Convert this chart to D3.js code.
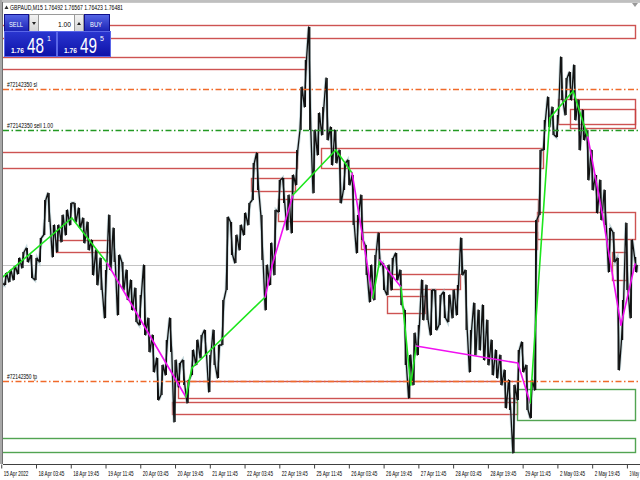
<!DOCTYPE html>
<html><head><meta charset="utf-8">
<script src="https://cdn.jsdelivr.net/npm/d3@7"></script>
<style>body{margin:0;background:#fff}svg{display:block}</style>
</head><body>
<svg id="c" width="640" height="480"></svg>
<script>
// ---------------- data ----------------
const symbolTitle = "GBPAUD,M15  1.76492 1.76567 1.76423 1.76481";
const bidPrice = 1.76481;
const askPrice = 1.76495;
const lotSize = "1.00";
const tickBars = [0,64,128,192,256,320,384,448,512,576,640,704,768,832,896,960,1024,1088,1152];
const tickLabels = ["15 Apr 2022","18 Apr 03:45","18 Apr 19:45","19 Apr 11:45","20 Apr 03:45","20 Apr 19:45","21 Apr 11:45","22 Apr 03:45","22 Apr 19:45","25 Apr 11:45","26 Apr 03:45","26 Apr 19:45","27 Apr 11:45","28 Apr 03:45","28 Apr 19:45","29 Apr 11:45","2 May 03:45","2 May 19:45","3 May"];
const barStep = 8; // bars between price samples
const high = [1.7630,1.7640,1.7643,1.7647,1.7655,1.7661,1.7665,1.7658,1.7655,1.7675,
1.7713,1.7720,1.7688,1.7688,1.7698,1.7703,1.7710,1.7710,1.7705,1.7695,
1.7691,1.7673,1.7663,1.7655,1.7643,1.7698,1.7685,1.7658,1.7651,1.7643,
1.7633,1.7625,1.7618,1.7648,1.7595,1.7578,1.7555,1.7548,1.7573,1.7595,
1.7553,1.7550,1.7553,1.7533,1.7563,1.7573,1.7578,1.7583,1.7558,1.7583,
1.7568,1.7613,1.7696,1.7691,1.7678,1.7688,1.7700,1.7710,1.7750,1.7760,
1.7698,1.7648,1.7670,1.7703,1.7733,1.7735,1.7718,1.7738,1.7763,1.7826,
1.7853,1.7886,1.7783,1.7800,1.7806,1.7835,1.7786,1.7783,1.7763,1.7750,
1.7753,1.7738,1.7698,1.7718,1.7668,1.7648,1.7658,1.7680,1.7650,1.7648,
1.7655,1.7660,1.7643,1.7603,1.7558,1.7580,1.7588,1.7633,1.7628,1.7623,
1.7623,1.7618,1.7621,1.7618,1.7623,1.7628,1.7675,1.7643,1.7583,1.7610,
1.7603,1.7608,1.7593,1.7573,1.7563,1.7558,1.7543,1.7533,1.7528,1.7563,
1.7571,1.7548,1.7533,1.7693,1.7763,1.7793,1.7816,1.7806,1.7798,1.7856,
1.7835,1.7841,1.7848,1.7813,1.7803,1.7783,1.7763,1.7738,1.7733,1.7723,
1.7685,1.7681,1.7655,1.7613,1.7690,1.7673,1.7656];
const low = [1.7610,1.7628,1.7631,1.7633,1.7639,1.7645,1.7651,1.7635,1.7633,1.7651,
1.7678,1.7691,1.7656,1.7661,1.7671,1.7678,1.7688,1.7691,1.7685,1.7670,
1.7663,1.7638,1.7628,1.7623,1.7595,1.7643,1.7651,1.7598,1.7623,1.7613,
1.7603,1.7591,1.7588,1.7578,1.7561,1.7541,1.7513,1.7518,1.7538,1.7561,
1.7491,1.7526,1.7528,1.7510,1.7538,1.7548,1.7555,1.7558,1.7521,1.7548,
1.7535,1.7568,1.7623,1.7658,1.7650,1.7663,1.7678,1.7688,1.7713,1.7723,
1.7653,1.7603,1.7628,1.7638,1.7701,1.7710,1.7683,1.7680,1.7728,1.7783,
1.7806,1.7783,1.7720,1.7758,1.7778,1.7773,1.7748,1.7750,1.7710,1.7723,
1.7728,1.7688,1.7660,1.7673,1.7638,1.7611,1.7613,1.7648,1.7623,1.7618,
1.7623,1.7633,1.7608,1.7548,1.7515,1.7528,1.7558,1.7593,1.7593,1.7578,
1.7583,1.7588,1.7595,1.7591,1.7595,1.7598,1.7638,1.7583,1.7541,1.7558,
1.7563,1.7553,1.7548,1.7538,1.7535,1.7528,1.7505,1.7503,1.7460,1.7513,
1.7541,1.7503,1.7495,1.7523,1.7698,1.7763,1.7786,1.7778,1.7776,1.7813,
1.7798,1.7813,1.7793,1.7763,1.7773,1.7733,1.7723,1.7700,1.7693,1.7688,
1.7641,1.7651,1.7543,1.7573,1.7623,1.7595,1.7641];
const zzBar   = [3,130,195,340,351,486,499,537,616,646,684,697,736,754,764,951,974,1010,1053,1080,1106,1141,1167];
const zzPrice = [1.7636,1.7695,1.7650,1.7516,1.7545,1.7616,1.7648,1.7718,1.7763,1.7740,1.7615,1.7653,1.7626,1.7528,1.7567,1.7550,1.7510,1.7795,1.7822,1.7776,1.7701,1.7588,1.7649];
const zzSide  = ["g","g","m","g","g","m","m","g","g","m","g","m","g","g","m","m","g","g","g","m","m","m"];
const zoneFrom = [-20,-20,-20,589,460,510,662,101,325,314,1025,1047,986,1125,716,710,950,-20];
const zoneTo   = [1167,561,545,997,541,988,986,200,950,950,1167,1167,1167,1150,845,780,1167,1167];
const zoneHigh = [1.7888,1.7856,1.7761,1.7765,1.7735,1.7714,1.7681,1.7673,1.7532,1.7511,1.7814,1.7804,1.7701,1.7661,1.7639,1.7617,1.7524,1.7475];
const zoneLow  = [1.7875,1.7844,1.7745,1.7745,1.7722,1.7692,1.7664,1.7661,1.7515,1.7499,1.7789,1.7785,1.7674,1.7633,1.7624,1.7600,1.7493,1.7461];
const zoneKind = ["s","s","s","s","s","s","s","s","s","s","s","s","s","s","s","s","d","d"];
const orderNames  = ["#72142350 sl","#72142350 sell 1.00","#72142350 tp"];
const orderPrices = [1.7824,1.7783,1.7532];
const orderKinds  = ["sl","open","tp"];

// ---------------- drawing ----------------
const svg = d3.select("#c");
const x = d3.scaleLinear().domain([0,1152]).range([1.24,626.92]);
const y = d3.scaleLinear().domain([1.7458,1.7900]).range([455,13]);
const FONT = "'Liberation Sans', Arial, sans-serif";
function squeeze(sel, target){ sel.each(function(){ this.setAttribute("textLength", target); this.setAttribute("lengthAdjust","spacingAndGlyphs"); }); }

const defs = svg.append("defs");
defs.append("clipPath").attr("id","plot").append("rect").attr("x",3).attr("y",3).attr("width",637).attr("height",461);
function grad(id, c1, c2){ const g=defs.append("linearGradient").attr("id",id).attr("x1",0).attr("y1",0).attr("x2",0).attr("y2",1);
  g.append("stop").attr("offset","0%").attr("stop-color",c1); g.append("stop").attr("offset","100%").attr("stop-color",c2); }
grad("btn","#5566e6","#1a22b4");
grad("box","#2a36d0","#0e12a8");
grad("gry","#f4f4f4","#d4d4d4");

const plot = svg.append("g").attr("clip-path","url(#plot)");

// bid line
plot.append("line").attr("x1",3).attr("x2",640).attr("y1",Math.round(y(bidPrice))+0.5).attr("y2",Math.round(y(bidPrice))+0.5)
  .attr("stroke","#c4c4c4").attr("stroke-width",1);

// zones
plot.selectAll("rect.zone").data(zoneFrom.map((f,i)=>i)).join("rect").attr("class","zone")
  .attr("x",i=>Math.round(x(zoneFrom[i]))+0.5).attr("y",i=>Math.round(y(zoneHigh[i]))+0.5)
  .attr("width",i=>Math.round(x(zoneTo[i]))-Math.round(x(zoneFrom[i])))
  .attr("height",i=>Math.round(y(zoneLow[i]))-Math.round(y(zoneHigh[i])))
  .attr("fill","none").attr("stroke",i=>zoneKind[i]==="s"?"#c8403f":"#3f9a3f").attr("stroke-width",1.4).attr("stroke-opacity",0.9);

// price path
const pts = [];
const n = high.length;
for(let i=0;i<n;i++){
  const mid=(high[i]+low[i])/2;
  const nxt = i<n-1 ? (high[i+1]+low[i+1])/2 : bidPrice;
  const b=i*barStep;
  if(nxt>mid){ pts.push([b-2,low[i]]); pts.push([b+2,high[i]]); }
  else { pts.push([b-2,high[i]]); pts.push([b+2,low[i]]); }
}
pts.push([n*barStep-barStep+3,bidPrice]);
const line = d3.line().x(d=>x(d[0])).y(d=>y(d[1]));
plot.append("path").attr("d",line(pts)).attr("fill","none").attr("stroke","#8fb4bc").attr("stroke-width",3).attr("stroke-opacity",0.5);
plot.selectAll("line.bar").data(high.map((h,i)=>i)).join("line").attr("class","bar")
  .attr("x1",i=>x(i*barStep)).attr("x2",i=>x(i*barStep)).attr("y1",i=>y(high[i])).attr("y2",i=>y(low[i]))
  .attr("stroke","#111").attr("stroke-width",1.3);
plot.append("path").attr("d",line(pts)).attr("fill","none").attr("stroke","#111").attr("stroke-width",1.3).attr("stroke-linejoin","round");

// zigzag
zzSide.forEach((s,i)=>{
  plot.append("line").attr("x1",x(zzBar[i])).attr("y1",y(zzPrice[i])).attr("x2",x(zzBar[i+1])).attr("y2",y(zzPrice[i+1]))
    .attr("stroke",s==="g"?"#1ee61e":"#f010f0").attr("stroke-width",1.6).attr("stroke-linecap","round");
});

// order lines
orderPrices.forEach((p,i)=>{
  const yy=Math.round(y(p))+0.5;
  plot.append("line").attr("x1",3).attr("x2",640).attr("y1",yy).attr("y2",yy)
    .attr("stroke",orderKinds[i]==="open"?"#229922":"#f06a2a")
    .attr("stroke-width",1.3).attr("stroke-dasharray","6,2.5,1.5,2.5");
  const t=svg.append("text").attr("x",7).attr("y",yy-3).attr("font-family",FONT).attr("font-size",6.5).attr("fill","#000").text(orderNames[i]);
  squeeze(t,[30,46,30][i]);
});

// frame
svg.append("line").attr("x1",0).attr("x2",640).attr("y1",1).attr("y2",1).attr("stroke","#808080");
svg.append("line").attr("x1",0).attr("x2",640).attr("y1",2.5).attr("y2",2.5).attr("stroke","#c8c8c8");
svg.append("line").attr("x1",1).attr("x2",1).attr("y1",0).attr("y2",464).attr("stroke","#a8a8a8").attr("stroke-width",2);
svg.append("line").attr("x1",2.5).attr("x2",2.5).attr("y1",2).attr("y2",464).attr("stroke","#707070").attr("stroke-width",1);
svg.append("polygon").attr("points","632,3 638,3 635,7").attr("fill","#999");

// x axis
const ax = svg.append("g").attr("transform","translate(0,464.5)")
  .call(d3.axisBottom(x).tickValues(tickBars).tickFormat((d,i)=>tickLabels[i]).tickSize(4).tickSizeOuter(0));
ax.select(".domain").remove();
ax.append("line").attr("x1",3).attr("x2",640).attr("stroke","#404040");
ax.selectAll(".tick line").attr("stroke","#404040");
ax.selectAll(".tick text").attr("text-anchor","start").attr("x",2).attr("y",6).attr("dy","0.72em")
  .attr("font-family",FONT).attr("font-size",8).attr("fill","#000")
  .each(function(){ const w=this.getComputedTextLength(); this.setAttribute("textLength",Math.min(w*0.57, 639-this.parentNode.transform.baseVal[0].matrix.e-2)); this.setAttribute("lengthAdjust","spacingAndGlyphs"); });

// title
svg.append("polygon").attr("points","4.5,9 8.5,9 6.5,5.5").attr("fill","#333");
const tt=svg.append("text").attr("x",10).attr("y",10).attr("font-family",FONT).attr("font-size",6.5).attr("fill","#000").text(symbolTitle);
squeeze(tt,113);

// one-click trading panel
const panel = svg.append("g");
panel.append("rect").attr("x",4.5).attr("y",14.5).attr("width",24).attr("height",17).attr("fill","url(#btn)").attr("stroke","#10108a");
panel.append("rect").attr("x",84.5).attr("y",14.5).attr("width",25).attr("height",17).attr("fill","url(#btn)").attr("stroke","#10108a");
panel.append("rect").attr("x",29.5).attr("y",14.5).attr("width",9).attr("height",17).attr("fill","url(#gry)").attr("stroke","#9a9a9a");
panel.append("rect").attr("x",38.5).attr("y",14.5).attr("width",36).attr("height",17).attr("fill","#fff").attr("stroke","#9a9a9a");
panel.append("rect").attr("x",74.5).attr("y",14.5).attr("width",9).attr("height",17).attr("fill","url(#gry)").attr("stroke","#9a9a9a");
panel.append("polygon").attr("points","32,22 36,22 34,25").attr("fill","#222");
panel.append("polygon").attr("points","77,25 81,25 79,22").attr("fill","#222");
const sl=panel.append("text").attr("x",9).attr("y",26.5).attr("font-family",FONT).attr("font-size",8).attr("fill","#fff").text("SELL"); squeeze(sl,14);
const bl=panel.append("text").attr("x",90).attr("y",26.5).attr("font-family",FONT).attr("font-size",8).attr("fill","#fff").text("BUY"); squeeze(bl,12);
const lt=panel.append("text").attr("x",58).attr("y",26.5).attr("font-family",FONT).attr("font-size",8).attr("fill","#000").text(lotSize); squeeze(lt,13);
function priceBox(x0, w, price){
  const s=price.toFixed(5);
  panel.append("rect").attr("x",x0+0.5).attr("y",31.5).attr("width",w).attr("height",25).attr("fill","url(#box)").attr("stroke","#5a66e8");
  const a=panel.append("text").attr("x",x0+7).attr("y",53).attr("font-family",FONT).attr("font-weight","bold").attr("font-size",8).attr("fill","#fff").text(s.slice(0,4)); squeeze(a,13);
  const b=panel.append("text").attr("x",x0+23).attr("y",53).attr("font-family",FONT).attr("font-size",22).attr("fill","#fff").text(s.slice(4,6)); squeeze(b,17);
  panel.append("text").attr("x",x0+43).attr("y",41).attr("font-family",FONT).attr("font-size",7).attr("fill","#fff").text(s.slice(6,7));
}
priceBox(4, 52, bidPrice);
priceBox(57, 53, askPrice);
</script>
</body></html>
